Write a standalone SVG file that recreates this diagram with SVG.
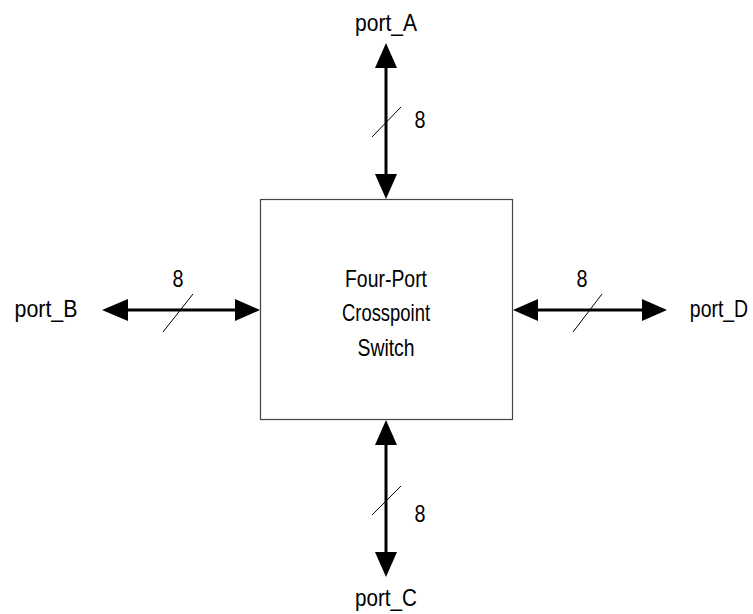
<svg xmlns="http://www.w3.org/2000/svg" width="753" height="614" viewBox="0 0 753 614">
<style>
text{font-family:"Liberation Sans",Arial,sans-serif;font-size:24px;fill:#000;text-anchor:middle}
.bus{stroke:#000;stroke-width:3;fill:none}
.slash{stroke:#000;stroke-width:1;fill:none}
.head{fill:#000}
.box{fill:#fff;stroke:#444;stroke-width:1.2}
</style>
<rect width="753" height="614" fill="#fff"/>
<g id="switch">
<rect class="box" x="260.5" y="199.5" width="252" height="220"/>
<text x="386" y="287" textLength="82" lengthAdjust="spacingAndGlyphs">Four-Port</text>
<text x="386" y="321" textLength="88" lengthAdjust="spacingAndGlyphs">Crosspoint</text>
<text x="386" y="356" textLength="57" lengthAdjust="spacingAndGlyphs">Switch</text>
</g>
<g id="port_A"><text x="386" y="31" textLength="62" lengthAdjust="spacingAndGlyphs">port_A</text></g>
<g id="port_B"><text x="46" y="317" textLength="63" lengthAdjust="spacingAndGlyphs">port_B</text></g>
<g id="port_C"><text x="386" y="606" textLength="62" lengthAdjust="spacingAndGlyphs">port_C</text></g>
<g id="port_D"><text transform="translate(719,317) scale(0.81,1)" x="0" y="0">port_D</text></g>
<g id="connectors">
<line class="bus" x1="386" y1="66" x2="386" y2="176"/>
<polygon class="head" points="386,43 375,68 397,68"/>
<polygon class="head" points="386,199 375,174 397,174"/>
<line class="slash" x1="372" y1="137" x2="401" y2="107"/>
<text x="420" y="128" textLength="11" lengthAdjust="spacingAndGlyphs">8</text>

<line class="bus" x1="386" y1="443" x2="386" y2="554"/>
<polygon class="head" points="386,420 375,445 397,445"/>
<polygon class="head" points="386,577 375,552 397,552"/>
<line class="slash" x1="372" y1="515" x2="401" y2="486"/>
<text x="420" y="522" textLength="11" lengthAdjust="spacingAndGlyphs">8</text>

<line class="bus" x1="126" y1="310" x2="237" y2="310"/>
<polygon class="head" points="102,310 128,299 128,321"/>
<polygon class="head" points="260,310 235,299 235,321"/>
<line class="slash" x1="163" y1="332" x2="193" y2="294"/>
<text x="178" y="287" textLength="11" lengthAdjust="spacingAndGlyphs">8</text>

<line class="bus" x1="536" y1="310" x2="644" y2="310"/>
<polygon class="head" points="513,310 538,299 538,321"/>
<polygon class="head" points="667,310 642,299 642,321"/>
<line class="slash" x1="573" y1="332" x2="602" y2="294"/>
<text x="582" y="287" textLength="11" lengthAdjust="spacingAndGlyphs">8</text>
</g>
</svg>
